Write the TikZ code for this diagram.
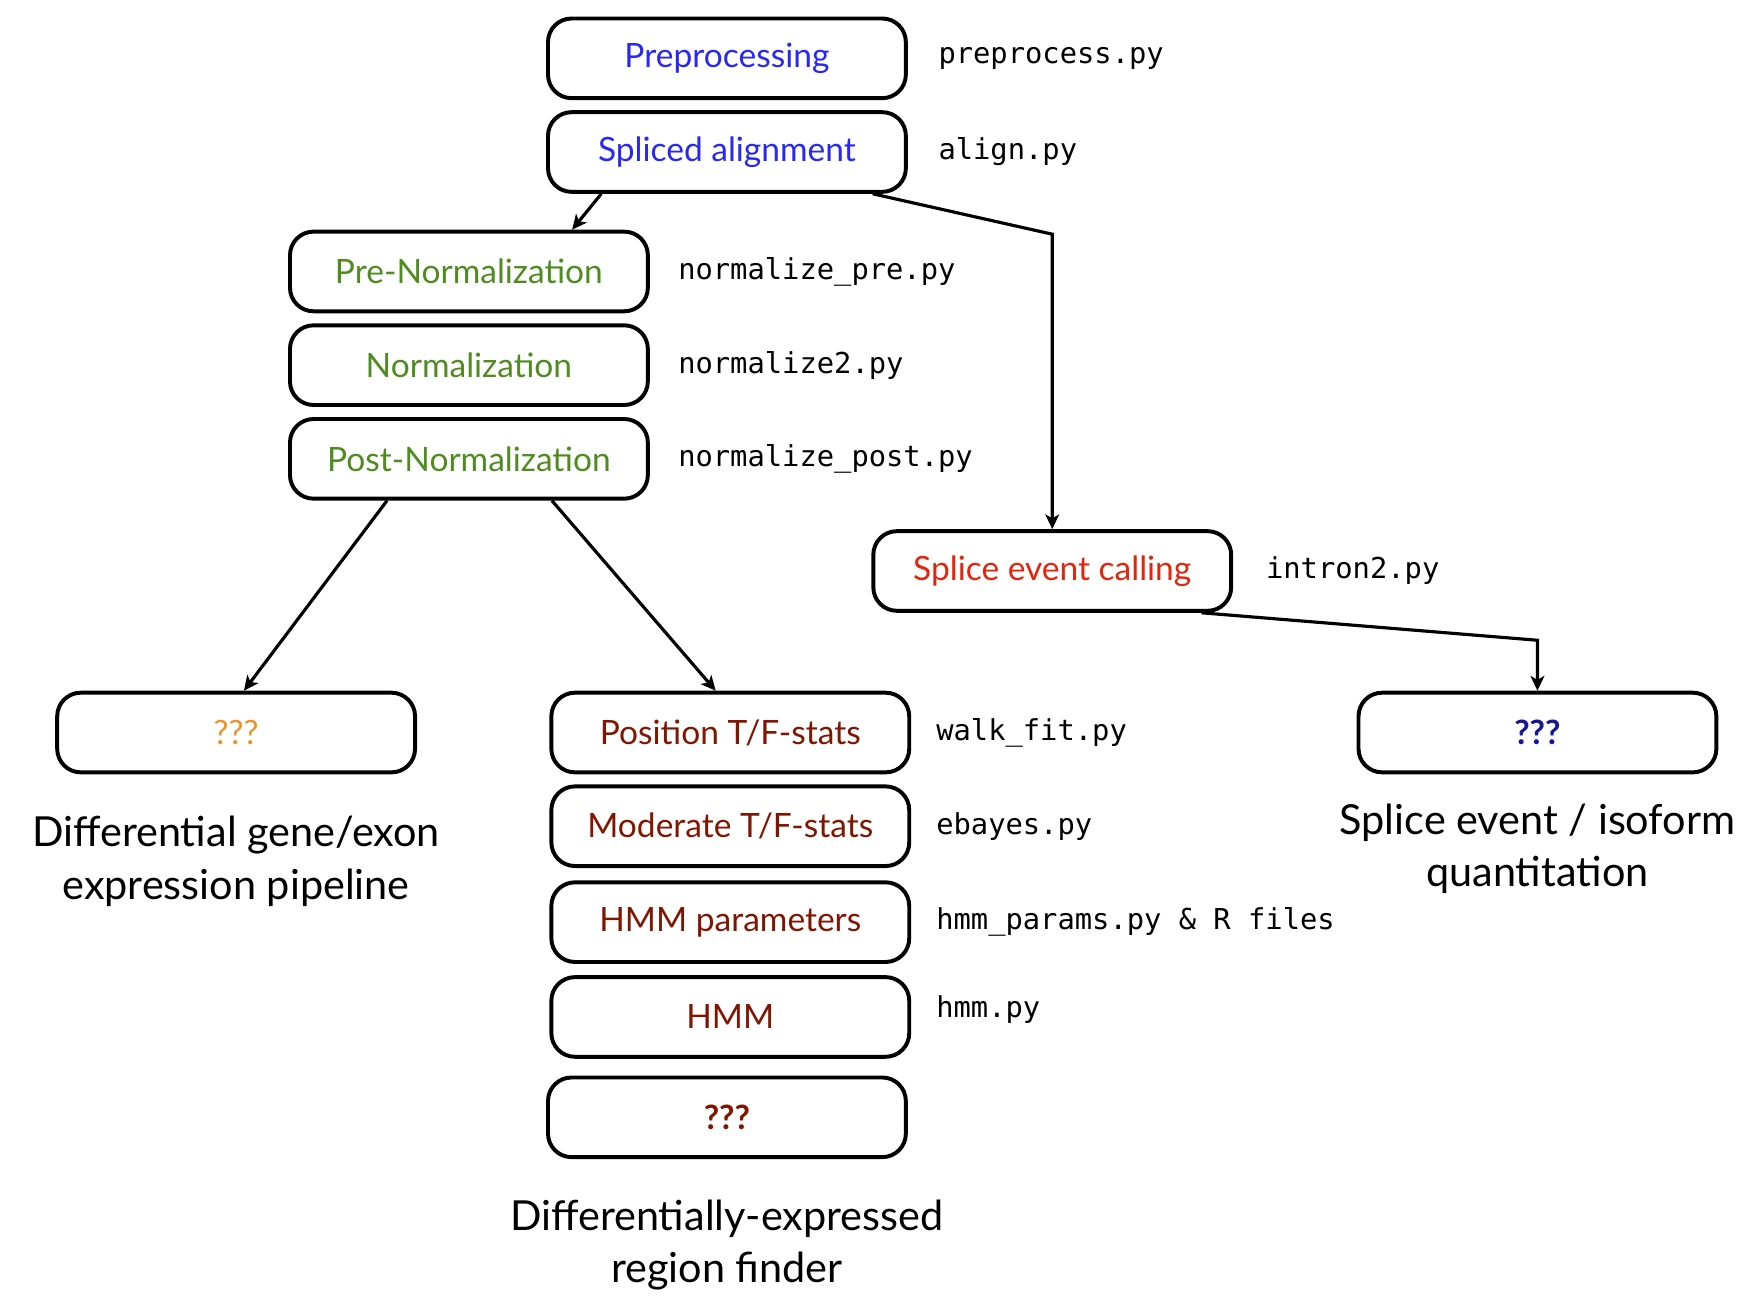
\documentclass[tikz,border=0pt]{standalone}
\usepackage{fontspec}
\setmainfont{Lato}
\setmonofont{DejaVu Sans Mono}
\usepackage{tikz}
\usetikzlibrary{positioning,calc,arrows.meta}
\definecolor{prepblue}{RGB}{40,40,245}
\definecolor{normgreen}{RGB}{78,140,32}
\definecolor{splicered}{RGB}{228,36,12}
\definecolor{hmmred}{RGB}{128,22,0}
\definecolor{qorange}{RGB}{236,146,40}
\definecolor{qnavy}{RGB}{22,22,150}
\tikzset{block/.style={draw,line width=2pt,rounded corners=0.42cm,minimum width=6.38cm,minimum height=1.42cm,align=center,inner sep=0pt,font=\fontsize{17}{20}\selectfont},
         script/.style={inner sep=0pt,anchor=west,font=\ttfamily\fontsize{14.6}{17}\selectfont},
         caption/.style={align=center,font=\fontsize{21}{26.7}\selectfont}
}
\tikzstyle{arrow} = [line width=1.6pt,->,>={Stealth[length=7.5pt,width=7pt,inset=2pt]}]

\begin{document}
\begin{tikzpicture}
\useasboundingbox (0,0) rectangle (31.2,-23.16);

% top of the pipeline
\node[block,text=prepblue] (prep) at (12.96,-1.04) {Preprocessing};
\node[block,text=prepblue,below=0.18cm of prep] (align) {Spliced alignment};
\node[script,right=0.54cm of prep] (prepscr) {preprocess.py};
\node[script,right=0.54cm of align] (alignscr) {align.py};

% normalization
\node[block,text=normgreen] (prenorm) at (8.36,-4.84) {Pre-Normalization};
\node[block,text=normgreen,below=0.18cm of prenorm] (norm) {Normalization};
\node[block,text=normgreen,below=0.18cm of norm] (postnorm) {Post-Normalization};
\node[script,right=0.5cm of prenorm] (prenormscr) {normalize\_pre.py};
\node[script,right=0.5cm of norm] (normscr) {normalize2.py};
\node[script,right=0.5cm of postnorm] (postnormscr) {normalize\_post.py};

% splice events
\node[block,text=splicered] (splice) at (18.76,-10.18) {Splice event calling};
\node[script,right=0.58cm of splice] (splicescr) {intron2.py};

% region finder
\node[block,text=hmmred] (pos) at (13.02,-13.06) {Position T/F-stats};
\node[block,text=hmmred,below=0.18cm of pos] (mod) {Moderate T/F-stats};
\node[block,text=hmmred,below=0.22cm of mod] (hmmpar) {HMM parameters};
\node[block,text=hmmred,below=0.2cm of hmmpar] (hmm) {HMM};
\node[block,text=hmmred,font=\bfseries\fontsize{17}{20}\selectfont] (regq) at (12.96,-19.92) {???};
\node[script,right=0.44cm of pos] (posscr) {walk\_fit.py};
\node[script,right=0.44cm of mod] (modscr) {ebayes.py};
\node[script,right=0.44cm of hmmpar] (hmmparscr) {hmm\_params.py \& R files};
\node[script,right=0.44cm of hmm,yshift=0.14cm] (hmmscr) {hmm.py};

% the other two pipelines
\node[block,text=qorange,left=2.36cm of pos] (geneq) {???};
\node[block,text=qnavy,font=\bfseries\fontsize{17}{20}\selectfont,right=7.94cm of pos] (isoq) {???};

% captions
\node[caption,below=0.62cm of geneq] (genecap) {Differential gene/exon\\expression pipeline};
\node[caption,below=0.6cm of regq] (regcap) {Differentially-expressed\\region finder};
\node[caption,below=0.4cm of isoq] (isocap) {Splice event / isoform\\quantitation};

% connectors
\coordinate (bendsplice) at ($(align.south)+(0,-0.72)$);
\coordinate (bendiso) at ($(isoq.north)+(0,0.9)$);
\draw[arrow] ($(align.south)+(-2.24,0)$)--($(prenorm.north)+(1.84,0)$);
\draw[arrow] ($(align.south)+(2.6,0)$)--(splice.north |- bendsplice)--(splice.north);
\draw[arrow] ($(postnorm.south)+(-1.46,0)$)--($(geneq.north)+(0.14,0)$);
\draw[arrow] ($(postnorm.south)+(1.48,0)$)--($(pos.north)+(-0.26,0)$);
\draw[arrow] ($(splice.south)+(2.66,0)$)--(bendiso)--(isoq.north);

\end{tikzpicture}
\end{document}
